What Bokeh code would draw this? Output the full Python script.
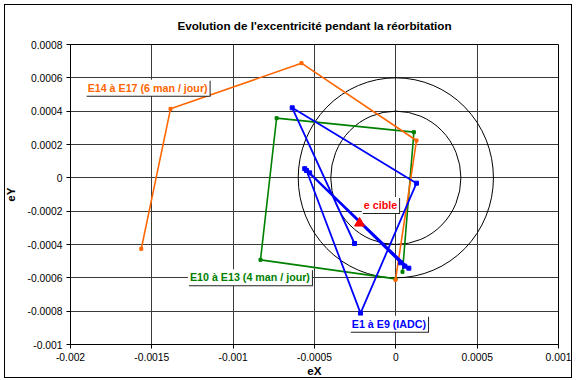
from bokeh.plotting import figure
from bokeh.models import Range1d, FixedTicker, CustomJSTickFormatter, Label, InlineStyleSheet
from bokeh.embed import file_html
from bokeh.resources import INLINE

title_text = "Evolution de l'excentricité pendant la réorbitation"
x_title = "eX"
y_title = "eY"
x_ticks = [-0.002, -0.0015, -0.001, -0.0005, 0.0, 0.0005, 0.001]
y_ticks = [-0.001, -0.0008, -0.0006, -0.0004, -0.0002, 0.0, 0.0002, 0.0004, 0.0006, 0.0008]

# E1 à E9 (IADC)
blue_name = "E1 à E9 (IADC)"
blue_x = [-0.000254, -0.000637, 0.000127, -0.000217, -0.000549, 0.000080, -0.000530, 0.000030, -0.000560, 0.000055]
blue_y = [-0.000394, 0.000420, -0.000032, -0.000812, 0.000044, -0.000542, 0.000030, -0.000510, 0.000055, -0.000530]

# E10 à E13 (4 man / jour)
green_name = "E10 à E13 (4 man / jour)"
green_x = [0.000041, 0.000111, -0.000733, -0.000832, -0.000002]
green_y = [-0.000564, 0.000274, 0.000358, -0.000492, -0.000606]

# E14 à E17 (6 man / jour)
orange_name = "E14 à E17 (6 man / jour)"
orange_x = [-0.000002, 0.000127, -0.000580, -0.001385, -0.001565]
orange_y = [-0.000612, 0.000224, 0.000688, 0.000414, -0.000426]

# target
target_name = "e cible"
target_x = [-0.000223]
target_y = [-0.000272]

# tolerance circles (centre and radii)
circle_cx = [0.0, 0.0]
circle_cy = [0.0, 0.0]
circle_r = [0.0004, 0.0006]

FONT = "Liberation Sans"

p = figure(width=576, height=380, output_backend="svg", toolbar_location=None,
           x_range=Range1d(x_ticks[0], x_ticks[-1]), y_range=Range1d(y_ticks[0], y_ticks[-1]),
           min_border_left=70, min_border_right=18, min_border_top=44, min_border_bottom=36,
           background_fill_color="white", border_fill_color="white")

# thin frame around the whole chart area
p.stylesheets = [InlineStyleSheet(css="""
:host { position: relative; }
:host::after {
  content: "";
  position: absolute;
  left: 4px; top: 4px; right: 4px; bottom: 2px;
  border: 1px solid #000000;
  pointer-events: none;
  z-index: 10;
}
""")]

p.title.text = title_text
p.title.align = "center"
p.title.offset = -25
p.title.standoff = 26
p.title.text_font = FONT
p.title.text_font_size = "11.7px"
p.title.text_font_style = "bold"
p.title.text_color = "black"

p.outline_line_color = "black"
p.outline_line_width = 1

fmt = CustomJSTickFormatter(code="const v = Math.round(tick*1e7)/1e7; return String(v);")

for ax, ticks, ttl in ((p.xaxis[0], x_ticks, x_title), (p.yaxis[0], y_ticks, y_title)):
    ax.ticker = FixedTicker(ticks=ticks)
    ax.formatter = fmt
    ax.axis_label = ttl
    ax.axis_label_text_font = FONT
    ax.axis_label_text_font_size = "11.7px"
    ax.axis_label_text_font_style = "bold"
    ax.axis_label_text_color = "black"
    ax.major_label_text_font = FONT
    ax.major_label_text_font_size = "10.3px"
    ax.major_label_text_color = "black"
    ax.axis_line_color = "black"
    ax.major_tick_line_color = "black"
    ax.major_tick_out = 4
    ax.major_tick_in = 0
    ax.minor_tick_line_color = None
    ax.major_label_standoff = 4

p.xaxis[0].axis_label_standoff = 0
p.yaxis[0].axis_label_standoff = 8

p.xgrid[0].ticker = FixedTicker(ticks=x_ticks)
p.ygrid[0].ticker = FixedTicker(ticks=y_ticks)
for g in (p.xgrid[0], p.ygrid[0]):
    g.grid_line_color = "#3a3a3a"
    g.grid_line_width = 1

# circles
p.ellipse(x=circle_cx, y=circle_cy, width=[2 * r for r in circle_r], height=[2 * r for r in circle_r],
          fill_color=None, line_color="black", line_width=1)

# series
p.line(green_x, green_y, line_color="#008000", line_width=1.6)
p.scatter(green_x, green_y, marker="square", size=3, color="#008000")
p.line(orange_x, orange_y, line_color="#FF6600", line_width=1.6)
p.scatter(orange_x, orange_y, marker="square", size=3, color="#FF6600")
p.line(blue_x, blue_y, line_color="#0000FF", line_width=1.8)
p.scatter(blue_x, blue_y, marker="square", size=4, color="#0000FF")

p.scatter(target_x, target_y, marker="triangle", size=10, color="#FF0000")


def boxed_label(text, x, y, color, align="left"):
    shadow = Label(x=x, y=y, text=text, text_font=FONT, text_font_size="10.7px",
                   text_font_style="bold", text_color="#222222",
                   text_align=align, text_baseline="middle",
                   background_fill_color="#222222", padding=2, x_offset=1, y_offset=-1)
    lab = Label(x=x, y=y, text=text, text_font=FONT, text_font_size="10.7px",
                text_font_style="bold", text_color=color,
                text_align=align, text_baseline="middle",
                background_fill_color="white", padding=2)
    p.add_layout(shadow)
    p.add_layout(lab)


boxed_label(orange_name, -0.001907, 0.000540, "#FF6600")
boxed_label(green_name, -0.001278, -0.000596, "#008000")
boxed_label(blue_name, -0.000283, -0.000876, "#0000FF")
boxed_label(target_name, -0.000209, -0.000163, "#FF0000")

open("out.html", "w").write(file_html(p, INLINE))
